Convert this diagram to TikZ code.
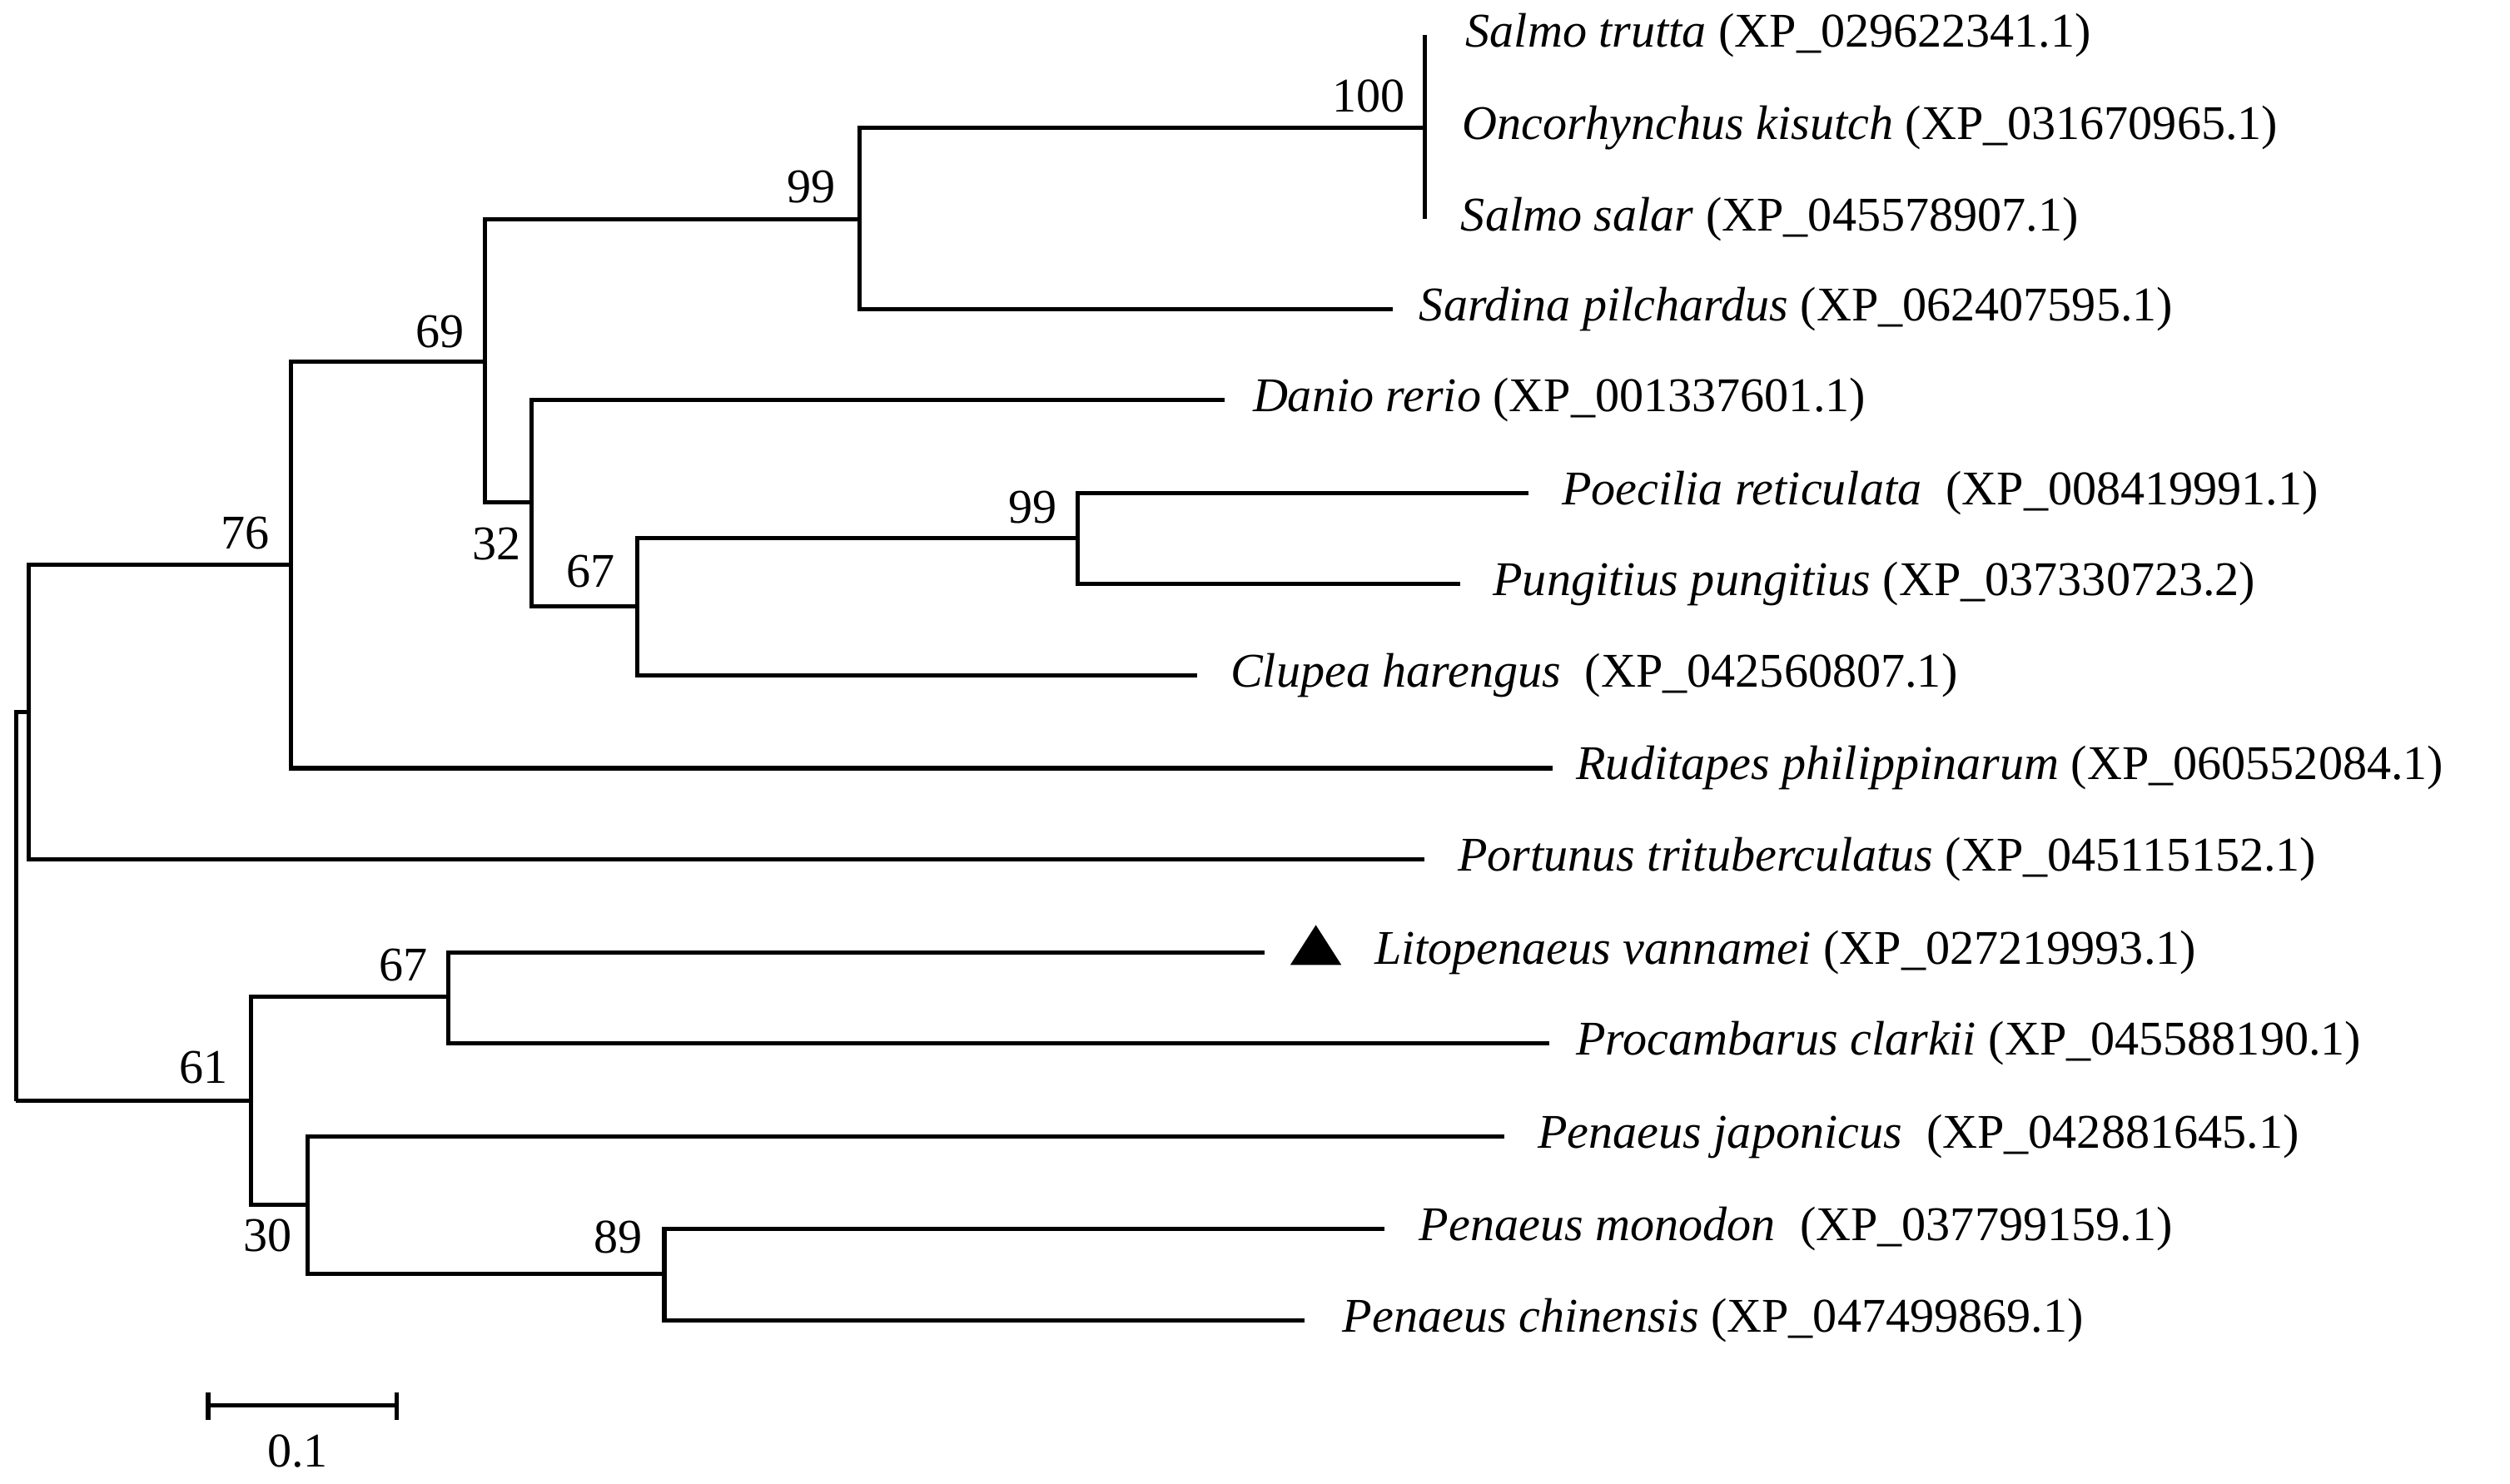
\documentclass[tikz,border=0pt]{standalone}
\usepackage{fontspec}
\setmainfont{Liberation Serif}
\begin{document}
\begin{tikzpicture}[x=0.01cm,y=-0.01cm,
  br/.style={line width=0.75pt},
  leaf/.style={anchor=west,inner sep=0pt,font=\fontsize{8.6}{10}\selectfont},
  bs/.style={inner sep=0pt,font=\fontsize{8.6}{10}\selectfont}]
\useasboundingbox (0,0) rectangle (1568,927);
% internal nodes
\coordinate (root) at (10,688);
\coordinate (nA) at (18,445);
\coordinate (n76) at (182,353);
\coordinate (n69) at (303,226);
\coordinate (n99) at (537,137);
\coordinate (n100) at (890,80);
\coordinate (n32) at (332,314);
\coordinate (n67) at (398,379);
\coordinate (n99b) at (673,336);
\coordinate (n61) at (157,688);
\coordinate (n67c) at (280,623);
\coordinate (n30) at (192,753);
\coordinate (n89) at (415,796);
% leaf tips
\coordinate (tST) at (890,22);
\coordinate (tOK) at (890,80);
\coordinate (tSS) at (890,137);
\coordinate (tSP) at (870,193);
\coordinate (tDR) at (765,250);
\coordinate (tPR) at (955,308);
\coordinate (tPP) at (912,365);
\coordinate (tCH) at (748,422);
\coordinate (tRP) at (970,480);
\coordinate (tPT) at (890,537);
\coordinate (tLV) at (790,595);
\coordinate (tPC) at (968,652);
\coordinate (tPJ) at (940,710);
\coordinate (tPM) at (865,768);
\coordinate (tPCh) at (815,825);
% branches
\draw[br] (root) |- (nA);
\draw[br] (root) -- (n61);
\draw[br] (nA) |- (n76);
\draw[br] (nA) |- (tPT);
\draw[br] (n76) |- (n69);
\draw[br] (n76) |- (tRP);
\draw[br] (n69) |- (n99);
\draw[br] (n69) |- (n32);
\draw[br] (n99) |- (n100);
\draw[br] (n99) |- (tSP);
\draw[br] (tST) -- (tSS);
\draw[br] (n32) |- (tDR);
\draw[br] (n32) |- (n67);
\draw[br] (n67) |- (n99b);
\draw[br] (n67) |- (tCH);
\draw[br] (n99b) |- (tPR);
\draw[br] (n99b) |- (tPP);
\draw[br] (n61) |- (n67c);
\draw[br] (n61) |- (n30);
\draw[br] (n67c) |- (tLV);
\draw[br] (n67c) |- (tPC);
\draw[br] (n30) |- (tPJ);
\draw[br] (n30) |- (n89);
\draw[br] (n89) |- (tPM);
\draw[br] (n89) |- (tPCh);
% leaf labels
\node[leaf] (lST) at (915,22) {\textit{Salmo trutta} (XP\_029622341.1)};
\node[leaf] (lOK) at (913,80) {\textit{Oncorhynchus kisutch} (XP\_031670965.1)};
\node[leaf] (lSS) at (912,137) {\textit{Salmo salar} (XP\_045578907.1)};
\node[leaf] (lSP) at (886,193) {\textit{Sardina pilchardus} (XP\_062407595.1)};
\node[leaf] (lDR) at (782,250) {\textit{Danio rerio} (XP\_001337601.1)};
\node[leaf] (lPR) at (975,308) {\textit{Poecilia reticulata}\ \ (XP\_008419991.1)};
\node[leaf] (lPP) at (932,365) {\textit{Pungitius pungitius} (XP\_037330723.2)};
\node[leaf] (lCH) at (768,422) {\textit{Clupea harengus}\ \ (XP\_042560807.1)};
\node[leaf] (lRP) at (984,480) {\textit{Ruditapes philippinarum} (XP\_060552084.1)};
\node[leaf] (lPT) at (910,537) {\textit{Portunus trituberculatus} (XP\_045115152.1)};
\node[leaf] (lLV) at (858,595) {\textit{Litopenaeus vannamei} (XP\_027219993.1)};
\node[leaf] (lPC) at (984,652) {\textit{Procambarus clarkii} (XP\_045588190.1)};
\node[leaf] (lPJ) at (960,710) {\textit{Penaeus japonicus}\ \ (XP\_042881645.1)};
\node[leaf] (lPM) at (886,768) {\textit{Penaeus monodon}\ \ (XP\_037799159.1)};
\node[leaf] (lPCh) at (838,825) {\textit{Penaeus chinensis} (XP\_047499869.1)};
\fill (822,578) -- (838,603) -- (806,603) -- cycle;
% bootstrap
\node[bs] (b100) at (855,60) {100};
\node[bs] (b99) at (507,117) {99};
\node[bs] (b69) at (275,207) {69};
\node[bs] (b76) at (153,333) {76};
\node[bs] (b32) at (310,340) {32};
\node[bs] (b67) at (369,357) {67};
\node[bs] (b99b) at (645,317) {99};
\node[bs] (b67c) at (252,603) {67};
\node[bs] (b61) at (127,667) {61};
\node[bs] (b30) at (167,772) {30};
\node[bs] (b89) at (386,773) {89};
% scale bar
\coordinate (sa) at (130,878);
\coordinate (sb) at (248,878);
\draw[br] (sa) -- (sb);
\draw[br] (130,870) -- (130,887);
\draw[br] (248,870) -- (248,887);
\node[bs] (sl) at (186,907) {0.1};
\end{tikzpicture}
\end{document}
